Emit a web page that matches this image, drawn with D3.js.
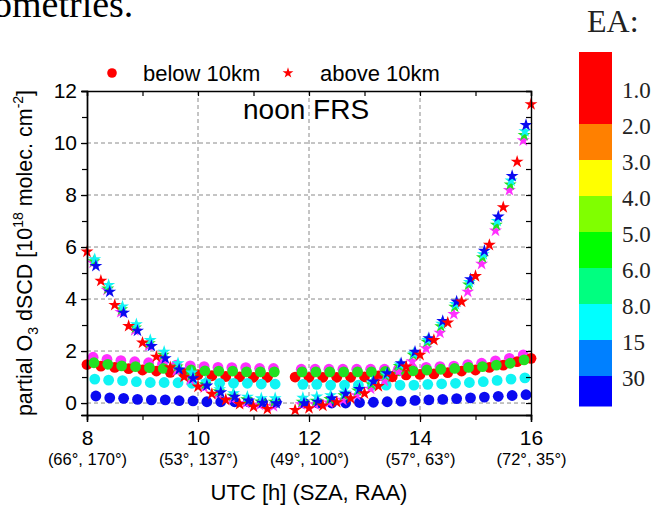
<!DOCTYPE html>
<html>
<head>
<meta charset="utf-8">
<script src="https://cdn.jsdelivr.net/npm/d3@7"></script>
<style>
  body { margin: 0; background: #fff; }
  svg { display: block; }
</style>
</head>
<body>
<div id="chart"></div>
<script>
// scan start times [UTC h], morning and afternoon parts
const scanAM = [8.00, 8.25, 8.50, 8.75, 9.00, 9.25, 9.50, 9.75, 10.00, 10.25, 10.50, 10.75, 11.00, 11.25];
const scanPM = [11.75, 12.00, 12.25, 12.50, 12.75, 13.00, 13.25, 13.50, 13.75, 14.00, 14.25, 14.50, 14.75, 15.00, 15.25, 15.50, 15.75];
const redExtraPM = [16.00];
// time lag of each elevation inside one scan [h]
const lagRed = 0, lagMagenta = 0.11, lagGreen = 0.125, lagCyan = 0.14, lagBlue = 0.16;

// below 10km (circles)
const redLowAM = [1.48, 1.42, 1.37, 1.32, 1.27, 1.23, 1.18, 1.14, 1.09, 1.05, 1.02, 1.01, 0.99, 0.99];
const redLowPM = [1.00, 0.99, 0.99, 0.99, 0.99, 1.01, 1.04, 1.01, 1.08, 1.10, 1.12, 1.17, 1.23, 1.27, 1.37, 1.46, 1.59, 1.72];
const magentaLowAM = [1.76, 1.68, 1.63, 1.59, 1.55, 1.50, 1.46, 1.43, 1.40, 1.37, 1.36, 1.36, 1.33, 1.33];
const magentaLowPM = [1.30, 1.30, 1.30, 1.30, 1.30, 1.30, 1.30, 1.30, 1.33, 1.37, 1.40, 1.42, 1.48, 1.53, 1.62, 1.72, 1.85];
const greenLowAM = [1.55, 1.49, 1.43, 1.40, 1.36, 1.33, 1.31, 1.27, 1.24, 1.23, 1.23, 1.20, 1.20, 1.20];
const greenLowPM = [1.20, 1.20, 1.20, 1.20, 1.20, 1.20, 1.22, 1.24, 1.24, 1.27, 1.30, 1.33, 1.37, 1.40, 1.46, 1.53, 1.66];
const cyanLowAM = [0.92, 0.88, 0.86, 0.82, 0.79, 0.79, 0.78, 0.76, 0.76, 0.76, 0.76, 0.76, 0.73, 0.73];
const cyanLowPM = [0.72, 0.72, 0.69, 0.69, 0.69, 0.69, 0.69, 0.69, 0.69, 0.72, 0.74, 0.76, 0.79, 0.82, 0.87, 0.92, 0.97];
const blueLowAM = [0.27, 0.20, 0.18, 0.14, 0.12, 0.12, 0.09, 0.08, 0.05, 0.05, 0.05, 0.05, 0.03, 0.03];
const blueLowPM = [0.00, 0.00, 0.00, 0.00, 0.02, 0.03, 0.05, 0.07, 0.10, 0.12, 0.14, 0.17, 0.20, 0.23, 0.26, 0.29, 0.32];

// above 10km (stars)
const redHighAM = [5.82, 4.70, 3.77, 2.96, 2.32, 1.78, 1.37, 1.01, 0.63, 0.35, 0.12, -0.04, -0.14, -0.23];
const redHighPM = [-0.27, -0.20, -0.10, 0.03, 0.18, 0.37, 0.65, 1.01, 1.40, 1.85, 2.42, 3.09, 3.90, 4.88, 6.08, 7.53, 9.28, 11.49];
const magentaHighAM = [5.40, 4.35, 3.50, 2.80, 2.20, 1.70, 1.25, 0.90, 0.60, 0.35, 0.15, 0.00, -0.08, -0.12];
const magentaHighPM = [-0.05, -0.05, 0.02, 0.12, 0.30, 0.55, 0.85, 1.20, 1.60, 2.10, 2.70, 3.42, 4.28, 5.35, 6.63, 8.19, 10.10];
const greenHighAM = [5.45, 4.40, 3.60, 2.90, 2.30, 1.85, 1.40, 1.05, 0.72, 0.45, 0.28, 0.14, 0.06, 0.05];
const greenHighPM = [0.05, 0.08, 0.15, 0.30, 0.48, 0.72, 1.05, 1.42, 1.85, 2.35, 2.95, 3.70, 4.55, 5.60, 6.85, 8.40, 10.30];
const cyanHighAM = [5.53, 4.54, 3.71, 3.03, 2.42, 1.97, 1.53, 1.17, 0.82, 0.53, 0.37, 0.24, 0.18, 0.18];
const cyanHighPM = [0.20, 0.25, 0.30, 0.40, 0.55, 0.80, 1.10, 1.48, 1.90, 2.42, 3.05, 3.80, 4.65, 5.72, 7.00, 8.55, 10.45];
const blueHighAM = [5.27, 4.28, 3.47, 2.78, 2.19, 1.72, 1.29, 0.95, 0.67, 0.41, 0.24, 0.09, 0.01, -0.01];
const blueHighPM = [-0.01, 0.05, 0.18, 0.35, 0.54, 0.82, 1.14, 1.53, 1.97, 2.49, 3.15, 3.90, 4.76, 5.85, 7.17, 8.73, 10.69];

// axis ticks
const xTicks = [8, 10, 12, 14, 16];
const xTickGeom = ["(66°, 170°)", "(53°, 137°)", "(49°, 100°)", "(57°, 63°)", "(72°, 35°)"];
const yTicks = [0, 2, 4, 6, 8, 10, 12];

// EA colour bar
const eaColors = ["#ff0000", "#ff0000", "#ff8000", "#ffff00", "#80ff00", "#00ff00", "#00ff80", "#00ffff", "#0080ff", "#0000ff"];
const eaLabels = ["1.0", "2.0", "3.0", "4.0", "5.0", "6.0", "8.0", "15", "30"];

const COL = { red: "#ff0000", magenta: "#ff30ff", green: "#22e022", cyan: "#10f4f4", blue: "#0a0af0" };

const W = 664, H = 505;
const PLOT = { LEFT: 87, RIGHT: 531, TOP: 91, BOTTOM: 415 };
const SANS = "'Liberation Sans', Arial, sans-serif";
const SERIF = "'Liberation Serif', 'Times New Roman', serif";

const svg = d3.select("#chart").append("svg").attr("width", W).attr("height", H);

const x = d3.scaleLinear().domain([8, 16]).range([PLOT.LEFT, PLOT.RIGHT]);
const y = d3.scaleLinear().domain([-0.46, 12]).range([PLOT.BOTTOM, PLOT.TOP]);

// pieces of the caption above and the EA title
svg.append("text").attr("x", -7).attr("y", 17)
  .attr("font-family", SERIF).attr("font-size", "38px").text("ometries.");
svg.append("text").attr("x", 587).attr("y", 32)
  .attr("font-family", SERIF).attr("font-size", "32px").attr("fill", "#222").text("EA:");

// grid
const grid = svg.append("g").attr("stroke", "#8a8a8a").attr("stroke-width", 1).attr("stroke-dasharray", "4,3");
grid.selectAll("line.h").data(yTicks.filter(d => d < 12)).enter().append("line")
  .attr("class", "h").attr("x1", PLOT.LEFT).attr("x2", PLOT.RIGHT)
  .attr("y1", d => y(d)).attr("y2", d => y(d));
grid.selectAll("line.v").data(xTicks.slice(1, -1)).enter().append("line")
  .attr("class", "v").attr("y1", PLOT.TOP).attr("y2", PLOT.BOTTOM)
  .attr("x1", d => x(d)).attr("x2", d => x(d));

// data
function pts(times, lag, vals) {
  return vals.map((v, i) => ({ t: times[i] + lag, v: v }));
}
const lowSeries = [
  { c: COL.magenta, d: pts(scanAM, lagMagenta, magentaLowAM).concat(pts(scanPM, lagMagenta, magentaLowPM)) },
  { c: COL.red, d: pts(scanAM, lagRed, redLowAM).concat(pts(scanPM.concat(redExtraPM), lagRed, redLowPM)) },
  { c: COL.green, d: pts(scanAM, lagGreen, greenLowAM).concat(pts(scanPM, lagGreen, greenLowPM)) },
  { c: COL.cyan, d: pts(scanAM, lagCyan, cyanLowAM).concat(pts(scanPM, lagCyan, cyanLowPM)) },
  { c: COL.blue, d: pts(scanAM, lagBlue, blueLowAM).concat(pts(scanPM, lagBlue, blueLowPM)) }
];
const highSeries = [
  { c: COL.magenta, d: pts(scanAM, lagMagenta, magentaHighAM).concat(pts(scanPM, lagMagenta, magentaHighPM)) },
  { c: COL.green, d: pts(scanAM, lagGreen, greenHighAM).concat(pts(scanPM, lagGreen, greenHighPM)) },
  { c: COL.cyan, d: pts(scanAM, lagCyan, cyanHighAM).concat(pts(scanPM, lagCyan, cyanHighPM)) },
  { c: COL.blue, d: pts(scanAM, lagBlue, blueHighAM).concat(pts(scanPM, lagBlue, blueHighPM)) },
  { c: COL.red, d: pts(scanAM, lagRed, redHighAM).concat(pts(scanPM.concat(redExtraPM), lagRed, redHighPM)) }
];

const star = d3.symbol().type(d3.symbolStar).size(52);

const dots = svg.append("g");
lowSeries.forEach(s => {
  dots.append("g").attr("fill", s.c).selectAll("circle").data(s.d).enter().append("circle")
    .attr("cx", d => x(d.t)).attr("cy", d => y(d.v)).attr("r", 5.4);
});
highSeries.forEach(s => {
  dots.append("g").attr("fill", s.c).selectAll("path").data(s.d).enter().append("path")
    .attr("d", star).attr("transform", d => `translate(${x(d.t)},${y(d.v)})`);
});

// axes
const axisStyle = g => {
  g.select(".domain").attr("stroke", "#000").attr("stroke-width", 1.4);
  g.selectAll(".tick line").attr("stroke", "#000").attr("stroke-width", 1.2);
};
const xMinor = d3.range(8, 16.01, 1);
const yMinor = d3.range(0, 12.01, 1);

// bottom
svg.append("g").attr("transform", `translate(0,${PLOT.BOTTOM})`)
  .call(d3.axisBottom(x).tickValues(xMinor).tickSize(5).tickFormat("")).call(axisStyle);
const xAx = svg.append("g").attr("transform", `translate(0,${PLOT.BOTTOM})`)
  .call(d3.axisBottom(x).tickValues(xTicks).tickSize(7).tickFormat(d3.format("d"))).call(axisStyle);
xAx.selectAll(".tick text").attr("y", 15.5).attr("dy", "0.71em")
  .attr("font-family", SANS).attr("font-size", "21px").attr("fill", "#000");
xAx.selectAll(".tick").append("text").attr("y", 50).attr("fill", "#000")
  .attr("font-family", SANS).attr("font-size", "16.5px").attr("text-anchor", "middle")
  .text((d, i) => xTickGeom[i]);

// top
svg.append("g").attr("transform", `translate(0,${PLOT.TOP})`)
  .call(d3.axisTop(x).tickValues(xMinor).tickSize(-5).tickFormat("")).call(axisStyle);

// left
svg.append("g").attr("transform", `translate(${PLOT.LEFT},0)`)
  .call(d3.axisLeft(y).tickValues(yMinor).tickSize(5).tickFormat("")).call(axisStyle);
const yAx = svg.append("g").attr("transform", `translate(${PLOT.LEFT},0)`)
  .call(d3.axisLeft(y).tickValues(yTicks).tickSize(6).tickPadding(4).tickFormat(d3.format("d"))).call(axisStyle);
yAx.selectAll(".tick text").attr("font-family", SANS).attr("font-size", "21px").attr("fill", "#000");

// right
svg.append("g").attr("transform", `translate(${PLOT.RIGHT},0)`)
  .call(d3.axisRight(y).tickValues(yMinor).tickSize(-5).tickFormat("")).call(axisStyle);

// axis titles
svg.append("text").attr("x", (PLOT.LEFT + PLOT.RIGHT) / 2).attr("y", 500)
  .attr("text-anchor", "middle").attr("font-family", SANS).attr("font-size", "22px")
  .text("UTC [h] (SZA, RAA)");

const yt = svg.append("text")
  .attr("transform", `translate(32,${(PLOT.TOP + PLOT.BOTTOM) / 2}) rotate(-90)`)
  .attr("text-anchor", "middle").attr("font-family", SANS).attr("font-size", "21.5px");
yt.append("tspan").text("partial O");
yt.append("tspan").attr("font-size", "14px").attr("dy", 6).text("3");
yt.append("tspan").attr("dy", -6).text(" dSCD [10");
yt.append("tspan").attr("font-size", "14px").attr("dy", -9).text("18");
yt.append("tspan").attr("dy", 9).text(" molec. cm");
yt.append("tspan").attr("font-size", "14px").attr("dy", -9).text("-2");
yt.append("tspan").attr("dy", 9).text("]");

// in-plot labels and legend
svg.append("text").attr("x", 243).attr("y", 119)
  .attr("font-family", SANS).attr("font-size", "28px").text("noon FRS");

const leg = svg.append("g").attr("font-family", SANS).attr("font-size", "22px");
leg.append("circle").attr("cx", 112).attr("cy", 73).attr("r", 4.8).attr("fill", COL.red);
leg.append("text").attr("x", 143).attr("y", 81).text("below 10km");
leg.append("path").attr("d", d3.symbol().type(d3.symbolStar).size(36))
  .attr("transform", "translate(288,73)").attr("fill", COL.red);
leg.append("text").attr("x", 320).attr("y", 81).text("above 10km");

// colour bar
const cb = d3.scaleLinear().domain([0, eaColors.length]).range([52, 412]);
const CB_BOTTOM = 406;
const bar = svg.append("g");
bar.selectAll("rect").data(eaColors).enter().append("rect")
  .attr("x", 579).attr("width", 33)
  .attr("y", (d, i) => cb(i))
  .attr("height", (d, i) => Math.min(cb(i + 1), CB_BOTTOM) - cb(i) + 0.5)
  .attr("fill", d => d);
bar.selectAll("text").data(eaLabels).enter().append("text")
  .attr("x", 622).attr("y", (d, i) => cb(i + 1) + 10)
  .attr("font-family", SERIF).attr("font-size", "23px").attr("fill", "#222")
  .text(d => d);
</script>
</body>
</html>
